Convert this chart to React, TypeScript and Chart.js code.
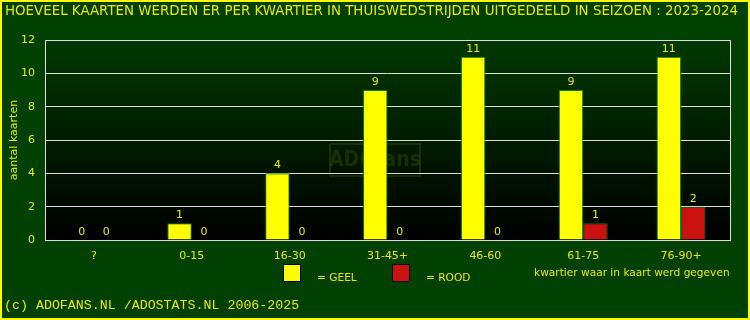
import React, { useEffect, useRef } from "react";
import { Chart, registerables } from "chart.js";

Chart.register(...registerables);

const TITLE = "HOEVEEL KAARTEN WERDEN ER PER KWARTIER IN THUISWEDSTRIJDEN UITGEDEELD IN SEIZOEN : 2023-2024";
const FOOTER = "(c) ADOFANS.NL /ADOSTATS.NL 2006-2025";
const X_NOTE = "kwartier waar in kaart werd gegeven";
const Y_TITLE = "aantal kaarten";
const categories = ["?", "0-15", "16-30", "31-45+", "46-60", "61-75", "76-90+"];
const geel = [0, 1, 4, 9, 11, 9, 11];
const rood = [0, 0, 0, 0, 0, 1, 2];
const seriesLabels = ["= GEEL", "= ROOD"];
const seriesColors = ["#ffff00", "#cc1111"];

const YELLOW = "#ffff00";
const TEXT_YELLOW = "#e8e800";
const FONT = "'DejaVu Sans', sans-serif";

const decor = {
  id: "decor",
  beforeDraw(chart: any) {
    const { ctx, width, height, chartArea: a } = chart;
    ctx.save();
    ctx.fillStyle = "#004000";
    ctx.fillRect(0, 0, width, height);
    const g = ctx.createLinearGradient(0, a.top, 0, a.bottom);
    g.addColorStop(0, "#003800");
    g.addColorStop(1, "#000000");
    ctx.fillStyle = g;
    ctx.fillRect(a.left, a.top, a.right - a.left, a.bottom - a.top);
    // watermark
    ctx.strokeStyle = "rgba(80,90,0,0.35)";
    ctx.lineWidth = 2;
    const cx = width / 2;
    ctx.strokeRect(cx - 45, 144, 90, 32);
    ctx.fillStyle = "rgba(80,90,0,0.35)";
    ctx.font = "bold 21px 'DejaVu Sans Condensed', sans-serif";
    ctx.textAlign = "center";
    ctx.textBaseline = "middle";
    ctx.fillText("ADOfans", cx, 161);
    ctx.restore();
  },
  afterDraw(chart: any) {
    const { ctx, width, height, chartArea: a } = chart;
    ctx.save();
    // plot border
    ctx.strokeStyle = "#dddddd";
    ctx.lineWidth = 1;
    ctx.strokeRect(Math.round(a.left) + 0.5, Math.round(a.top) + 0.5, Math.round(a.right - a.left), Math.round(a.bottom - a.top));
    // value labels
    ctx.fillStyle = TEXT_YELLOW;
    ctx.font = "11px " + FONT;
    ctx.textAlign = "center";
    ctx.textBaseline = "alphabetic";
    chart.data.datasets.forEach((ds: any, di: number) => {
      const meta = chart.getDatasetMeta(di);
      meta.data.forEach((bar: any, i: number) => {
        ctx.fillText(String(ds.data[i]), bar.x, bar.y - 5);
      });
    });
    // title
    ctx.font = "13.4px " + FONT;
    ctx.textAlign = "left";
    ctx.textBaseline = "middle";
    ctx.fillText(TITLE, 5, 12);
    // legend
    const legendX = [283, 392];
    chart.data.datasets.forEach((ds: any, di: number) => {
      const x = legendX[di];
      ctx.fillStyle = ds.backgroundColor;
      ctx.fillRect(x, 264, 18, 18);
      ctx.strokeStyle = "#000000";
      ctx.lineWidth = 1;
      ctx.strokeRect(x + 0.5, 264.5, 17, 17);
      ctx.fillStyle = TEXT_YELLOW;
      ctx.font = "10.6px " + FONT;
      ctx.textBaseline = "middle";
      ctx.fillText(ds.label, x + 34, 278);
    });
    ctx.fillText(X_NOTE, 534, 273);
    // footer
    ctx.font = "13.3px 'Liberation Mono', 'DejaVu Sans Mono', monospace";
    ctx.fillStyle = TEXT_YELLOW;
    ctx.fillText(FOOTER, 4, 305);
    // outer border
    ctx.strokeStyle = YELLOW;
    ctx.lineWidth = 2;
    ctx.strokeRect(1, 1, width - 2, height - 2);
    ctx.restore();
  },
};

export default function App() {
  const ref = useRef<HTMLCanvasElement>(null);
  useEffect(() => {
    document.body.style.margin = "0";
    const chart = new Chart(ref.current!, {
      type: "bar",
      data: {
        labels: categories,
        datasets: [
          { label: seriesLabels[0], data: geel, backgroundColor: seriesColors[0], borderColor: "#008000", borderWidth: 1 },
          { label: seriesLabels[1], data: rood, backgroundColor: seriesColors[1], borderColor: "#008000", borderWidth: 1 },
        ],
      },
      options: {
        animation: false,
        responsive: false,
        maintainAspectRatio: false,
        layout: { padding: { left: 0, top: 40, right: 20, bottom: 0 } },
        datasets: { bar: { categoryPercentage: 0.5, barPercentage: 1 } },
        plugins: { legend: { display: false }, tooltip: { enabled: false }, title: { display: false } },
        scales: {
          x: {
            grid: { display: false, drawTicks: false },
            border: { display: false },
            ticks: { color: TEXT_YELLOW, font: { family: FONT, size: 11 }, padding: 10, maxRotation: 0 },
            afterFit(scale: any) { scale.height = 80; },
          },
          y: {
            min: 0,
            max: 12,
            ticks: { stepSize: 2, color: TEXT_YELLOW, font: { family: FONT, size: 11 }, padding: 10 },
            grid: { color: "#dddddd", lineWidth: 1, drawTicks: false },
            border: { display: false },
            title: { display: true, text: Y_TITLE, color: TEXT_YELLOW, font: { family: FONT, size: 11 }, padding: { top: 8, bottom: 0 } },
            afterFit(scale: any) { scale.width = 45; },
          },
        },
      },
      plugins: [decor],
    });
    return () => chart.destroy();
  }, []);
  return <canvas ref={ref} width={750} height={320} style={{ display: "block" }} />;
}
